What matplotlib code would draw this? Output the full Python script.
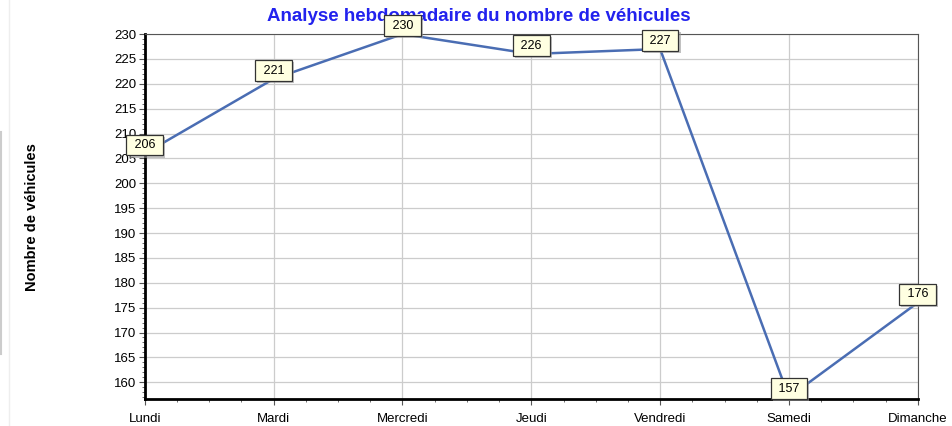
import matplotlib.pyplot as plt
import matplotlib.patheffects as pe
from matplotlib.lines import Line2D
from matplotlib.ticker import MultipleLocator, AutoMinorLocator

# Weekly vehicle counts
days = ["Lundi", "Mardi", "Mercredi", "Jeudi", "Vendredi", "Samedi", "Dimanche"]
vehicles = [206, 221, 230, 226, 227, 157, 176]

plt.rcParams['font.family'] = ['Liberation Sans', 'DejaVu Sans']

fig = plt.figure(figsize=(9.53, 4.26), dpi=100)
ax = fig.add_axes([0.152, 0.063, 0.811, 0.857])

x = list(range(len(days)))
ax.plot(x, vehicles, color="#4a6db3", linewidth=1.8, zorder=3)

# value labels in small yellow boxes with a soft shadow
for xi, v in zip(x, vehicles):
    t = ax.annotate(" %d " % v, (xi, v), xytext=(0, 6), textcoords="offset points",
                    ha="center", va="center", fontsize=9, zorder=5,
                    annotation_clip=False,
                    bbox=dict(boxstyle="square,pad=0.35", fc="#ffffe1", ec="#333333", lw=0.9))
    t.get_bbox_patch().set_path_effects([
        pe.SimplePatchShadow(offset=(1.5, -1.5), shadow_rgbFace="#999999", alpha=0.6),
        pe.Normal()])

ax.set_xlim(0, len(days) - 1)
ax.set_ylim(156.6, 230)
ax.set_xticks(x)
ax.set_xticklabels(days)
ax.yaxis.set_major_locator(MultipleLocator(5))
ax.xaxis.set_minor_locator(AutoMinorLocator(4))
ax.yaxis.set_minor_locator(AutoMinorLocator(5))

ax.grid(True, which="major", color="#cccccc", linewidth=0.9)
ax.set_axisbelow(True)
ax.tick_params(axis="both", which="major", labelsize=9.5, length=4, color="#555555")
ax.tick_params(axis="both", which="minor", length=2, color="#555555")
ax.tick_params(axis="x", pad=6)
ax.tick_params(axis="y", pad=2)

ax.spines["left"].set_linewidth(2)
ax.spines["bottom"].set_linewidth(2)
ax.spines["top"].set_color("#555555")
ax.spines["right"].set_color("#555555")

# title sits behind the axes so the 230 box covers it, as in the original
fig.text(0.502, 0.962, "Analyse hebdomadaire du nombre de véhicules", ha="center", va="center",
         color="#2222ee", fontsize=13.5, fontweight="bold", zorder=-1)
fig.text(0.034, 0.49, "Nombre de véhicules", rotation=90, ha="center", va="center",
         fontsize=10.5, fontweight="bold")

# faint window borders on the left
fig.add_artist(Line2D([0.009, 0.009], [0, 1], color="#eeeeee", lw=1))
fig.add_artist(Line2D([0.001, 0.001], [0.17, 0.69], color="#cccccc", lw=1.5))

fig.savefig("out.png", dpi=100)
